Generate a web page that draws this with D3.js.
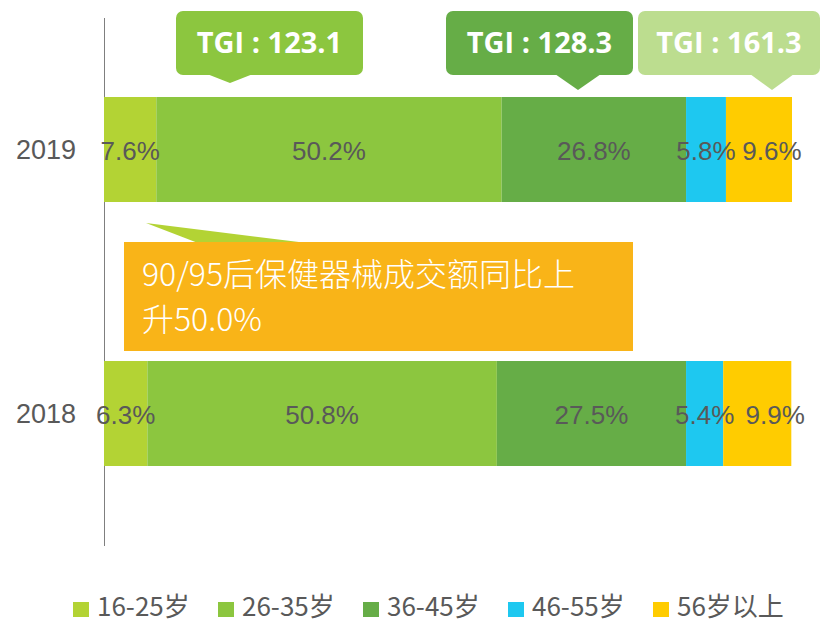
<!DOCTYPE html>
<html>
<head>
<meta charset="utf-8">
<script src="https://cdn.jsdelivr.net/npm/d3@7"></script>
<style>
  html, body { margin: 0; padding: 0; background: #ffffff; }
  svg { display: block; }
</style>
</head>
<body>
<svg id="chart" width="823" height="623"></svg>
<script>
// ---- data ----
const years = ["2019", "2018"];
const seriesNames = ["16-25岁", "26-35岁", "36-45岁", "46-55岁", "56岁以上"];
const values2019 = [7.6, 50.2, 26.8, 5.8, 9.6];
const values2018 = [6.3, 50.8, 27.5, 5.4, 9.9];
const seriesColors = ["#b3d334", "#8cc63f", "#66ad47", "#1ec8f0", "#ffcc00"];
const tgiLabels = ["TGI : 123.1", "TGI : 128.3", "TGI : 161.3"];
const tgiColors = ["#8cc63f", "#66ad47", "#bcdd8f"];
const noteLines = ["90/95后保健器械成交额同比上", "升50.0%"];

const valuesByYear = { "2019": values2019, "2018": values2018 };

// ---- layout ----
const svg = d3.select("#chart");
const x = d3.scaleLinear().domain([0, 100]).range([104, 792]);
const y = d3.scalePoint().domain(years).range([149.5, 413.5]);
const barH = 105;
const textColor = "#595959";
const labelDx = { "2019": [0, 0, 0, 0, 13], "2018": [0, 0, 0, 0, 18] };

// stacked rows
const rows = years.map(yr => {
  const vals = valuesByYear[yr];
  let acc = 0;
  return { year: yr, segs: vals.map((v, i) => { const s = { i, v, x0: acc, x1: acc + v }; acc += v; return s; }) };
});

// axis line
svg.append("line")
  .attr("x1", 104.5).attr("x2", 104.5)
  .attr("y1", 18).attr("y2", 546)
  .attr("stroke", "#7f7f7f").attr("stroke-width", 1);

const rowG = svg.selectAll("g.row").data(rows).enter().append("g").attr("class", "row");

rowG.selectAll("rect").data(d => d.segs.map(s => ({ ...s, year: d.year }))).enter()
  .append("rect")
  .attr("x", d => x(d.x0))
  .attr("width", d => x(d.x1) - x(d.x0))
  .attr("y", d => y(d.year) - barH / 2)
  .attr("height", barH)
  .attr("fill", d => seriesColors[d.i]);

rowG.selectAll("text.val").data(d => d.segs.map(s => ({ ...s, year: d.year }))).enter()
  .append("text")
  .attr("class", "val")
  .attr("x", d => (x(d.x0) + x(d.x1)) / 2 + labelDx[d.year][d.i])
  .attr("y", d => y(d.year) + 10)
  .attr("text-anchor", "middle")
  .attr("font-family", "'Liberation Sans', Arial, sans-serif")
  .attr("font-size", 26)
  .attr("fill", textColor)
  .text(d => d.v.toFixed(1) + "%");

// year labels
svg.selectAll("text.year").data(years).enter()
  .append("text")
  .attr("class", "year")
  .attr("x", 76)
  .attr("y", d => y(d) + 9)
  .attr("text-anchor", "end")
  .attr("font-family", "'Liberation Sans', Arial, sans-serif")
  .attr("font-size", 27)
  .attr("fill", textColor)
  .text(d => d);

// TGI callouts
const callouts = [
  { x0: 176, x1: 363, tip: 230, half: 23, tipY: 83 },
  { x0: 446, x1: 633, tip: 578, half: 23, tipY: 90 },
  { x0: 638, x1: 820, tip: 772, half: 22, tipY: 90 }
];
const cg = svg.selectAll("g.callout").data(callouts).enter().append("g").attr("class", "callout");
cg.append("rect")
  .attr("x", d => d.x0).attr("y", 11)
  .attr("width", d => d.x1 - d.x0).attr("height", 64)
  .attr("rx", 7).attr("ry", 7)
  .attr("fill", (d, i) => tgiColors[i]);
cg.append("path")
  .attr("d", d => `M${d.tip - d.half},74 L${d.tip},${d.tipY} L${d.tip + d.half},74 Z`)
  .attr("fill", (d, i) => tgiColors[i]);
cg.append("text")
  .attr("x", d => (d.x0 + d.x1) / 2)
  .attr("y", 53)
  .attr("text-anchor", "middle")
  .attr("font-family", "'Open Sans', 'Noto Sans', sans-serif")
  .attr("font-weight", "bold")
  .attr("font-size", 29)
  .attr("fill", "#ffffff")
  .text((d, i) => tgiLabels[i]);

// annotation note
svg.append("path")
  .attr("d", "M146,223 L307,243 L198,243 Z")
  .attr("fill", seriesColors[0]);
svg.append("rect")
  .attr("x", 124).attr("y", 242)
  .attr("width", 509).attr("height", 109)
  .attr("fill", "#f9b418");
svg.selectAll("text.note").data(noteLines).enter()
  .append("text")
  .attr("class", "note")
  .attr("x", 142)
  .attr("y", (d, i) => 286 + i * 45)
  .attr("font-family", "'Noto Sans CJK SC', 'Noto Sans', sans-serif")
  .attr("font-weight", 300)
  .attr("font-size", 32)
  .attr("fill", "#ffffff")
  .text(d => d);

// legend
const lg = svg.selectAll("g.legend").data(seriesNames).enter()
  .append("g").attr("class", "legend")
  .attr("transform", (d, i) => `translate(${73 + i * 145},0)`);
lg.append("rect")
  .attr("x", 0).attr("y", 602).attr("width", 16).attr("height", 15)
  .attr("fill", (d, i) => seriesColors[i]);
lg.append("text")
  .attr("x", 24).attr("y", 616)
  .attr("font-family", "'Noto Sans CJK SC', 'Noto Sans', sans-serif")
  .attr("font-size", 26)
  .attr("fill", textColor)
  .text(d => d);
</script>
</body>
</html>
